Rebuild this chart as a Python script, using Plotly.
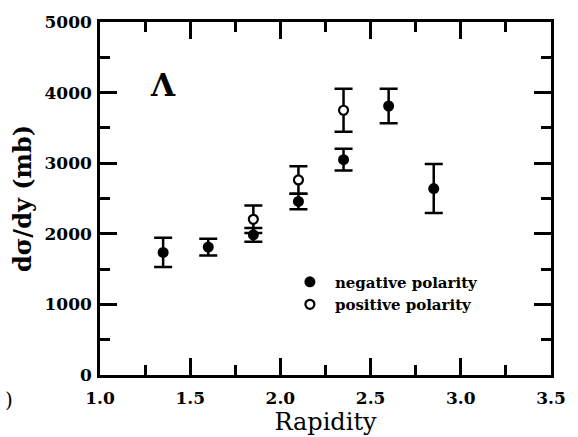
import plotly.graph_objects as go

# Data
neg_x = [1.35, 1.6, 1.85, 2.1, 2.35, 2.6, 2.85]
neg_y = [1736, 1812, 1986, 2458, 3050, 3810, 2640]
neg_err = [208, 118, 97, 111, 153, 245, 347]

pos_x = [1.85, 2.1, 2.35]
pos_y = [2205, 2763, 3750]
pos_err = [195, 195, 305]

x_ticks = [1.0, 1.5, 2.0, 2.5, 3.0, 3.5]
x_ticklabels = ["1.0", "1.5", "2.0", "2.5", "3.0", "3.5"]
y_ticks = [0, 1000, 2000, 3000, 4000, 5000]
y_ticklabels = ["0", "1000", "2000", "3000", "4000", "5000"]

SERIF = "DejaVu Serif"

fig = go.Figure()
fig.add_trace(go.Scatter(
    x=neg_x, y=neg_y, mode="markers", name="negative polarity",
    marker=dict(symbol="circle", size=11, color="black", line=dict(width=0)),
    error_y=dict(type="data", array=neg_err, visible=True, color="black",
                 thickness=2.5, width=9),
))
fig.add_trace(go.Scatter(
    x=pos_x, y=pos_y, mode="markers", name="positive polarity",
    marker=dict(symbol="circle", size=9, color="white",
                line=dict(width=2.2, color="black")),
    error_y=dict(type="data", array=pos_err, visible=True, color="black",
                 thickness=2.5, width=9),
))

tickfont = dict(family=SERIF, size=17, color="black", weight="bold")
fig.update_xaxes(
    range=[1.0, 3.5], tickmode="array", tickvals=x_ticks, ticktext=x_ticklabels,
    ticks="inside", ticklen=17, tickwidth=2.5, tickcolor="black",
    minor=dict(dtick=0.25, tick0=1.0, ticks="inside", ticklen=10, tickwidth=2.5,
               tickcolor="black", showgrid=False),
    showline=True, linewidth=2.5, linecolor="black", mirror="allticks",
    showgrid=False, zeroline=False, tickfont=tickfont, ticklabelstandoff=6,
    title=dict(text="Rapidity", font=dict(family=SERIF, size=24, color="black"),
               standoff=0),
)
fig.update_yaxes(
    range=[0, 5000], tickmode="array", tickvals=y_ticks, ticktext=y_ticklabels,
    ticks="inside", ticklen=17, tickwidth=2.5, tickcolor="black",
    minor=dict(dtick=500, tick0=0, ticks="inside", ticklen=10, tickwidth=2.5,
               tickcolor="black", showgrid=False),
    showline=True, linewidth=2.5, linecolor="black", mirror="allticks",
    showgrid=False, zeroline=False, tickfont=tickfont, ticklabelstandoff=2,
    title=dict(text="dσ/dy (mb)", font=dict(family=SERIF, size=24, color="black",
                                            weight="bold"), standoff=7),
)

fig.add_annotation(x=1.35, y=4110, xref="x", yref="y", text="Λ", showarrow=False,
                   font=dict(family=SERIF, size=31, color="black", weight="bold"))
fig.add_annotation(x=-0.214, y=-0.11, xref="paper", yref="paper", text=")",
                   xanchor="left", showarrow=False,
                   font=dict(family=SERIF, size=20, color="black"))

fig.update_layout(
    width=578, height=437,
    margin=dict(l=100, r=20, t=15, b=62),
    paper_bgcolor="white", plot_bgcolor="white",
    showlegend=True,
    legend=dict(x=0.41, y=0.31, xanchor="left", yanchor="top",
                bgcolor="rgba(0,0,0,0)", itemwidth=40,
                font=dict(family=SERIF, size=15, color="black", weight="bold"),
                tracegroupgap=0, itemclick=False),
)

fig.write_html("out.html")
